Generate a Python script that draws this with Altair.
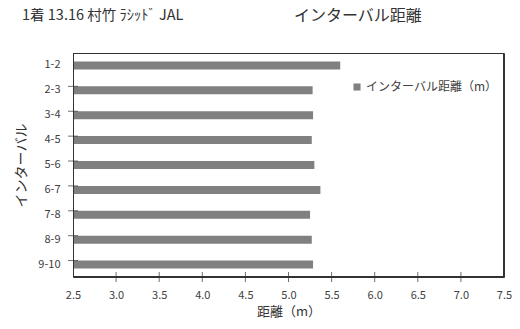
import altair as alt
import pandas as pd

intervals = ["1-2", "2-3", "3-4", "4-5", "5-6", "6-7", "7-8", "8-9", "9-10"]
distances = [5.60, 5.28, 5.285, 5.27, 5.30, 5.37, 5.25, 5.27, 5.285]
series_name = "インターバル距離（m）"
x_ticks = [3, 3.5, 4, 4.5, 5, 5.5, 6, 6.5, 7]
x_labels = [2.5, 3, 3.5, 4, 4.5, 5, 5.5, 6, 6.5, 7, 7.5]
title_left = "1着 13.16 村竹 ﾗｼｯﾄﾞ JAL"
title_right = "インターバル距離"
x_title = "距離（m）"
y_title = "インターバル"

FONT = "Noto Sans CJK JP"
W, H = 431, 224
LINE = "#333333"

df = pd.DataFrame({"interval": intervals, "distance": distances, "series": [series_name] * len(intervals)})

xscale = alt.Scale(domain=[2.5, 7.5], nice=False, zero=False)
yscale = alt.Scale(domain=intervals, paddingInner=0.68, paddingOuter=0.34)

bars = alt.Chart(df).mark_bar(size=8, clip=True).encode(
    x=alt.X("distance:Q", scale=xscale,
            axis=alt.Axis(title=x_title, values=x_labels, ticks=False, domain=False, grid=False,
                          labelPadding=12, titlePadding=5, labelFontSize=11, titleFontSize=13,
                          labelColor="#404040", titleColor="#333333", labelFont=FONT, titleFont=FONT,
                          titleFontWeight="normal", labelFlush=False)),
    y=alt.Y("interval:N", scale=yscale, sort=intervals,
            axis=alt.Axis(title=y_title, ticks=False, domain=False, grid=False,
                          labelPadding=13, titlePadding=9, labelFontSize=11, titleFontSize=14,
                          labelColor="#404040", titleColor="#333333", labelFont=FONT, titleFont=FONT,
                          titleFontWeight="normal")),
    color=alt.Color("series:N", scale=alt.Scale(range=["#808080"]),
                    legend=alt.Legend(title=None, orient="none", legendX=278, legendY=28,
                                      symbolType="square", symbolSize=50, symbolStrokeWidth=0,
                                      labelFontSize=12, labelColor="#404040", labelFont=FONT,
                                      labelOffset=3)),
)

one = pd.DataFrame({"f": [0]})
def edge(x1, x2, y1, y2):
    return alt.Chart(one).mark_rect(color=LINE, opacity=1).encode(
        x=alt.value(x1), x2=alt.value(x2), y=alt.value(y1), y2=alt.value(y2))

frame = [
    edge(0, W, 0, 1),
    edge(0, W, H - 1, H),
    edge(0, 1, 0, H),
    edge(W - 1, W, 0, H),
]

ytick_df = pd.DataFrame({"interval": intervals[1:]})
yticks = alt.Chart(ytick_df).mark_tick(color=LINE, thickness=1, size=10, orient="horizontal").encode(
    y=alt.Y("interval:N", scale=yscale, sort=intervals, bandPosition=0),
    x=alt.value(0),
)

xtick_df = pd.DataFrame({"t": x_ticks})
xticks = alt.Chart(xtick_df).mark_tick(color=LINE, thickness=1, size=10, orient="vertical").encode(
    x=alt.X("t:Q", scale=xscale),
    y=alt.value(H),
)

t1 = alt.Chart(pd.DataFrame({"t": [title_left]})).mark_text(
    align="left", baseline="middle", fontSize=14.5, font=FONT, color="#333333"
).encode(text="t:N", x=alt.value(22 - 73), y=alt.value(15.5 - 53))

t2 = alt.Chart(pd.DataFrame({"t": [title_right]})).mark_text(
    align="left", baseline="middle", fontSize=16, font=FONT, color="#333333"
).encode(text="t:N", x=alt.value(294 - 73), y=alt.value(15.5 - 53))

chart = alt.layer(bars, *frame, yticks, xticks, t1, t2).properties(
    width=W, height=H,
    autosize=alt.AutoSizeParams(type="none"),
    padding={"left": 65, "top": 45, "right": 8, "bottom": 52},
    background="white",
).configure_view(stroke=LINE, strokeWidth=1)

chart.save("out.html", embed_options={"renderer": "svg", "actions": False})
